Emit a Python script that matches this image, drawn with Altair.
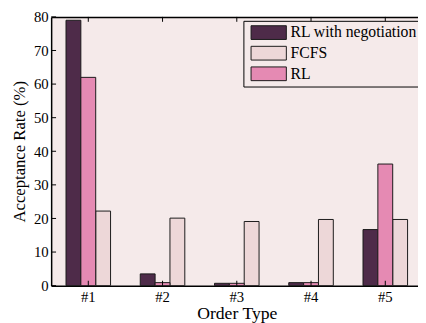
import altair as alt
import pandas as pd

categories = ["#1", "#2", "#3", "#4", "#5"]
series_names = ["RL with negotiation", "FCFS", "RL"]
bar_order = ["RL with negotiation", "RL", "FCFS"]
rl_negotiation = [79.0, 3.5, 0.7, 0.9, 16.7]
fcfs = [22.2, 20.1, 19.1, 19.7, 19.7]
rl = [62.0, 0.9, 0.7, 0.9, 36.2]
y_ticks = [0, 10, 20, 30, 40, 50, 60, 70, 80]
colors = ["#4e2b49", "#edd7d8", "#e58ab3"]

rows = []
for name, vals in zip(series_names, [rl_negotiation, fcfs, rl]):
    for c, v in zip(categories, vals):
        rows.append({"cat": c, "series": name, "value": v})
df = pd.DataFrame(rows)
df_cat = pd.DataFrame({"cat": categories})
df_yt = pd.DataFrame({"v": y_ticks})

W, H = 374, 274
FONT = "Liberation Serif"
BG = "#f5eaea"

xscale = alt.Scale(domain=categories, range=[0, 378.5], paddingInner=0.4, paddingOuter=0.2)
yscale = alt.Scale(domain=[0, 80], nice=False)

bars = alt.Chart(df).mark_bar(stroke="#1a1a1a", strokeWidth=1).encode(
    x=alt.X("cat:N", scale=xscale, sort=categories,
            axis=alt.Axis(title="Order Type", labelAngle=0, ticks=False, labelPadding=4,
                          domainColor="black", domainWidth=1.5, titlePadding=1,
                          labelFontSize=15, titleFontSize=18)),
    xOffset=alt.XOffset("series:N", sort=bar_order, scale=alt.Scale(paddingInner=0, paddingOuter=0)),
    y=alt.Y("value:Q", scale=yscale,
            axis=alt.Axis(title="Acceptance Rate (%)", values=y_ticks, ticks=False, grid=False,
                          labelPadding=3, domainColor="black", domainWidth=1.5,
                          labelFontSize=15, titleFontSize=17, titlePadding=5)),
    color=alt.Color("series:N", sort=series_names,
                    scale=alt.Scale(domain=series_names, range=colors),
                    legend=alt.Legend(title=None, orient="none", legendX=196, legendY=4,
                                      strokeColor="black", fillColor=BG, padding=4,
                                      symbolType="M-0.6,-1H4.54V1H-0.6Z", symbolSize=196,
                                      symbolStrokeColor="#1a1a1a", symbolStrokeWidth=1,
                                      symbolOpacity=1,
                                      labelFont=FONT, labelFontSize=16, labelColor="black",
                                      labelOffset=28, rowPadding=3, labelLimit=300)),
)

ytick_rules = alt.Chart(df_yt).mark_rule(color="black", strokeWidth=1).encode(
    y=alt.Y("v:Q", scale=yscale, axis=None),
    x=alt.value(0), x2=alt.value(5),
)

top_ticks = alt.Chart(df_cat).mark_rule(color="black", strokeWidth=1).encode(
    x=alt.X("cat:N", scale=xscale, sort=categories,
            axis=alt.Axis(orient="top", labels=False, ticks=False, title=None,
                          domainColor="black", domainWidth=1.5)),
    y=alt.value(0), y2=alt.value(5),
)

bottom_ticks = alt.Chart(df_cat).mark_rule(color="black", strokeWidth=1).encode(
    x=alt.X("cat:N", scale=xscale, sort=categories, axis=None),
    y=alt.value(H), y2=alt.value(H - 5),
)

chart = alt.layer(bars, ytick_rules, top_ticks, bottom_ticks).resolve_axis(
    x="independent", y="independent"
).properties(
    width=W, height=H,
    autosize=alt.AutoSizeParams(type="none"),
    padding={"left": 44, "top": 6, "right": 0, "bottom": 35},
).configure(
    font=FONT,
).configure_axis(
    labelFont=FONT, titleFont=FONT, labelColor="black", titleColor="black",
    titleFontWeight="normal",
).configure_legend(
    labelFont=FONT,
).configure_view(
    stroke=None, fill=BG,
)

chart.save("out.html", embed_options={"renderer": "svg", "actions": False})
